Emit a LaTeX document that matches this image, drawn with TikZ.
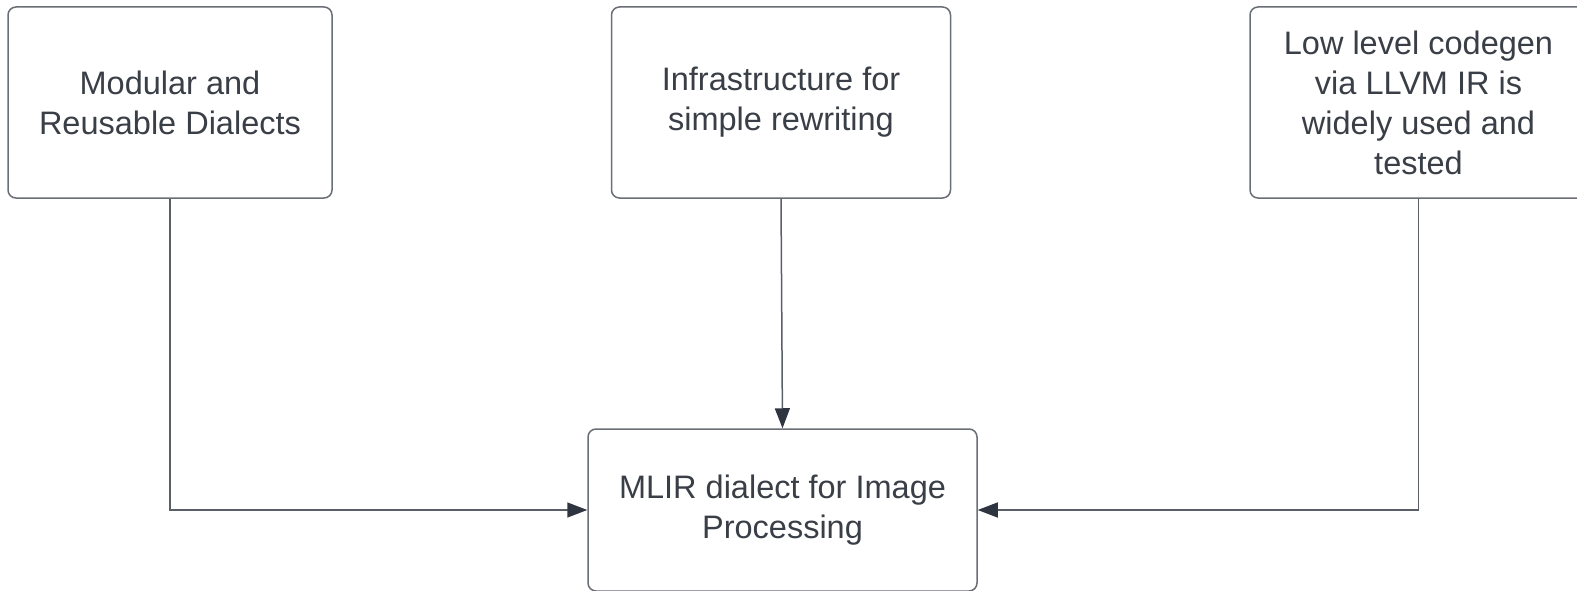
\documentclass[tikz,border=0pt]{standalone}
\usepackage{fontspec}
\setmainfont{Liberation Sans}
\usetikzlibrary{arrows.meta}
\definecolor{boxline}{HTML}{6A6E75}
\definecolor{txt}{HTML}{3A3F47}
\definecolor{conn}{HTML}{5A5E66}
\definecolor{tipc}{HTML}{2F3540}
\tikzset{
  card/.style={draw=boxline, line width=1.5pt, rounded corners=8pt, fill=white,
    align=center, text=txt, inner sep=0pt,
    font=\fontsize{32.5}{40}\selectfont},
  link/.style={draw=conn, line width=1.5pt,
    -{Triangle[length=20pt,width=15pt,fill=tipc,color=tipc]}}
}
\begin{document}
\begin{tikzpicture}[x=1pt,y=-1pt]
\useasboundingbox (0,0) rectangle (1577,591);
\node[card, minimum width=324pt, minimum height=191pt] (b1) at (170,102.5)
  {Modular and\\Reusable Dialects};
\node[card, minimum width=339pt, minimum height=191pt] (b2) at (781,102.5)
  {Infrastructure for\\simple rewriting};
\node[card, minimum width=337pt, minimum height=191pt] (b3) at (1418.5,102.5)
  {Low level codegen\\via LLVM IR is\\widely used and\\tested};
\node[card, minimum width=389pt, minimum height=162pt] (b4) at (782.5,510)
  {MLIR dialect for Image\\Processing};
\draw[link] (b1.south) |- (b4.west);
\draw[link] (b2.south) -- (b4.north);
\draw[link] (b3.south) |- (b4.east);
\end{tikzpicture}
\end{document}
